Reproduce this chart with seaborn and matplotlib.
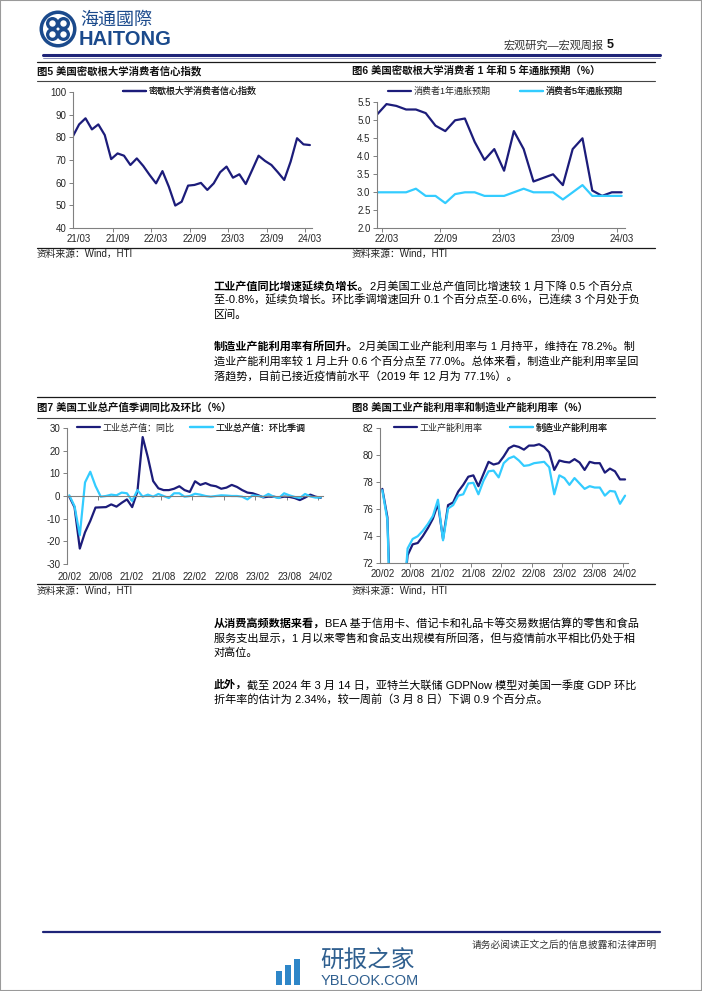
import numpy as np
import pandas as pd
import matplotlib
matplotlib.use("Agg")
import matplotlib.pyplot as plt
import seaborn as sns
from matplotlib.lines import Line2D
from matplotlib.patches import Ellipse, Rectangle

# ---------------- data ----------------
sent_months = [str(p) for p in pd.period_range("2021-02", "2024-03", freq="M")]
sentiment = [80.3, 85.7, 88.4, 83.5, 85.7, 81.0, 70.4, 72.9, 71.9, 67.8, 70.7, 67.4,
             63.4, 59.7, 65.1, 58.2, 49.9, 51.6, 58.7, 59.0, 59.9, 56.8, 59.7, 64.6,
             67.1, 62.2, 63.7, 59.4, 65.6, 71.9, 69.6, 67.8, 64.6, 61.2, 69.3, 79.6,
             76.9, 76.6]
sent_ticklabels = ["21/03", "21/09", "22/03", "22/09", "23/03", "23/09", "24/03"]

infl_months = [str(p) for p in pd.period_range("2022-02", "2024-03", freq="M")]
infl_1y = [5.15, 5.45, 5.4, 5.3, 5.3, 5.2, 4.85, 4.7, 5.0, 5.05, 4.4, 3.9, 4.2,
           3.6, 4.7, 4.2, 3.3, 3.4, 3.5, 3.2, 4.2, 4.5, 3.05, 2.9, 3.0, 3.0]
infl_5y = [3.0, 3.0, 3.0, 3.0, 3.1, 2.9, 2.9, 2.7, 2.95, 3.0, 3.0, 2.9, 2.9,
           2.9, 3.0, 3.1, 3.0, 3.0, 3.0, 2.8, 3.0, 3.2, 2.9, 2.9, 2.9, 2.9]
infl_ticklabels = ["22/03", "22/09", "23/03", "23/09", "24/03"]

ip_months = [str(p) for p in pd.period_range("2020-02", "2024-02", freq="M")]
ip_yoy = [-0.3, -5, -23.2, -16, -11, -5.1, -5, -4.9, -3.7, -4.7, -3, -1.5, -4.9,
          2, 26, 17, 6.6, 3.4, 2.6, 2.6, 3.2, 4.3, 2.6, 1.8, 6.5, 4.9, 5.7, 4.7,
          4.3, 3.2, 3.7, 4.9, 4.0, 2.6, 1.5, 1.2, 0.4, -0.6, -0.3, -0.3, -0.7,
          -0.3, -0.4, -0.9, -1.8, -0.7, 0.6, -0.3, -0.8]
ip_mom = [0.3, -4.5, -17.3, 6, 10.7, 4.4, -0.3, 0, 0.6, 0.3, 1.5, 1.2, -2.2, 2.6,
          -0.3, 0.6, -0.3, 0.9, 0, -0.9, 1.2, 1.2, -0.3, 0, 1.0, 0.6, 0, -0.3, 0,
          0.3, 0.2, 0, 0, -0.3, -1.5, 0.3, 0, -0.4, 0.9, -0.3, -0.9, 1.2, 0.3,
          -0.4, -0.9, 0.9, -0.2, -0.7, -0.6]
cu_total = [77.5, 75.4, 64.2, 64.9, 68.8, 72.6, 73.4, 73.5, 74.0, 74.6, 75.3, 76.4,
            73.8, 76.3, 76.5, 77.3, 77.8, 78.4, 78.5, 77.7, 78.6, 79.5, 79.3, 79.4,
            79.9, 80.5, 80.7, 80.6, 80.4, 80.7, 80.7, 80.8, 80.6, 80.2, 78.9, 79.6,
            79.5, 79.45, 79.7, 79.45, 78.9, 79.5, 79.4, 79.4, 78.7, 79.0, 78.8,
            78.2, 78.2]
cu_mfg = [77.4, 75.2, 62.5, 63.5, 68.0, 73.1, 73.8, 74.0, 74.4, 74.9, 75.5, 76.7,
          73.7, 76.05, 76.3, 77.0, 77.1, 77.9, 77.95, 77.1, 78.1, 78.8, 78.85,
          78.35, 79.4, 79.75, 79.9, 79.6, 79.2, 79.25, 79.4, 79.45, 79.5, 79.1,
          77.1, 78.5, 78.3, 77.8, 78.3, 77.9, 77.5, 77.7, 77.6, 77.6, 77.0, 77.35,
          77.3, 76.4, 77.0]
ip_ticklabels = ["20/02", "20/08", "21/02", "21/08", "22/02", "22/08", "23/02",
                 "23/08", "24/02"]

# ---------------- style ----------------
sns.set_theme(style="white")
plt.rcParams["font.family"] = ["Liberation Sans", "Noto Sans CJK SC"]
plt.rcParams["axes.unicode_minus"] = False

NAVY = "#1C1C7A"
CYAN = "#33CCFF"
GRAY = "#808080"
W, H = 702, 991

fig = plt.figure(figsize=(W / 100, H / 100), dpi=100)
fig.patch.set_facecolor("white")


def px(x):
    return x / W


def py(y):
    return 1 - y / H


def add_ax(l, t, r, b):
    return fig.add_axes([l / W, 1 - b / H, (r - l) / W, (b - t) / H])


def hline(x0, x1, y, color="k", lw=0.8):
    fig.add_artist(Line2D([px(x0), px(x1)], [py(y), py(y)], color=color, lw=lw))


def disc(cx, cy, r, color):
    fig.add_artist(Ellipse((px(cx), py(cy)), 2 * r / W, 2 * r / H,
                           transform=fig.transFigure, facecolor=color,
                           edgecolor="none"))


def style_ax(ax):
    for s in ["top", "right"]:
        ax.spines[s].set_visible(False)
    for s in ["left", "bottom"]:
        ax.spines[s].set_color(GRAY)
        ax.spines[s].set_linewidth(0.8)
    ax.tick_params(axis="y", which="major", direction="out", length=3, width=0.7,
                   color=GRAY, labelsize=7, pad=1.5, left=True)
    ax.tick_params(axis="x", which="major", length=0, labelsize=7, pad=4)
    ax.tick_params(axis="x", which="minor", direction="out", length=3, width=0.7,
                   color=GRAY, bottom=True)
    ax.set_xlabel("")
    ax.set_ylabel("")
    ax.set_facecolor("white")


def add_legend(ax, label, color, x, y):
    h = Line2D([], [], color=color, lw=1.6)
    leg = ax.legend([h], [label], loc="center left",
                    bbox_to_anchor=(px(x), py(y)), bbox_transform=fig.transFigure,
                    frameon=False, borderpad=0, borderaxespad=0, handlelength=2.6,
                    handletextpad=0.25, prop={"size": 6.5})
    ax.add_artist(leg)


# ---------------- chart 5 ----------------
df5 = pd.DataFrame({"m": np.arange(len(sentiment)), "v": sentiment, "month": sent_months})
ax5 = add_ax(72.7, 92, 311.8, 228)
sns.lineplot(data=df5, x="m", y="v", ax=ax5, color=NAVY, lw=1.6, legend=False)
ax5.set_xlim(0, 37.3)
ax5.set_ylim(40, 100)
ax5.set_yticks(np.arange(40, 101, 10))
ax5.set_xticks(np.arange(1, 38, 6))
ax5.set_xticklabels(sent_ticklabels)
ax5.set_xticks(np.arange(6.25, 37, 6), minor=True)
style_ax(ax5)
add_legend(ax5, "密歇根大学消费者信心指数", NAVY, 123, 91.7)

# ---------------- chart 6 ----------------
df6 = pd.DataFrame({"m": np.arange(len(infl_1y)), "y1": infl_1y, "y5": infl_5y,
                    "month": infl_months})
ax6 = add_ax(376.7, 102.3, 624.6, 228.3)
sns.lineplot(data=df6, x="m", y="y1", ax=ax6, color=NAVY, lw=1.6, legend=False)
sns.lineplot(data=df6, x="m", y="y5", ax=ax6, color=CYAN, lw=1.6, legend=False)
ax6.set_xlim(0, 25.3)
ax6.set_ylim(2.0, 5.5)
ax6.set_yticks(np.arange(2.0, 5.51, 0.5))
ax6.set_yticklabels([f"{v:.1f}" for v in np.arange(2.0, 5.51, 0.5)])
ax6.set_xticks(np.arange(1, 26, 6))
ax6.set_xticklabels(infl_ticklabels)
ax6.set_xticks(np.arange(0.5, 25, 6), minor=True)
style_ax(ax6)
add_legend(ax6, "消费者1年通胀预期", NAVY, 387.7, 91.7)
add_legend(ax6, "消费者5年通胀预期", CYAN, 520, 91.7)

# ---------------- chart 7 ----------------
df7 = pd.DataFrame({"m": np.arange(len(ip_yoy)), "yoy": ip_yoy, "mom": ip_mom,
                    "month": ip_months})
ax7 = add_ax(66.7, 428, 323.4, 564)
sns.lineplot(data=df7, x="m", y="yoy", ax=ax7, color=NAVY, lw=1.6, legend=False)
sns.lineplot(data=df7, x="m", y="mom", ax=ax7, color=CYAN, lw=1.6, legend=False)
ax7.set_xlim(-0.5, 48.5)
ax7.set_ylim(-30, 30)
ax7.set_yticks(np.arange(-30, 31, 10))
ax7.set_xticks(np.arange(0, 49, 6))
ax7.set_xticklabels(ip_ticklabels)
ax7.set_xticks(np.arange(5.5, 48, 6), minor=True)
style_ax(ax7)
ax7.spines["bottom"].set_position(("data", 0))
ax7.tick_params(axis="x", which="major", pad=55)
add_legend(ax7, "工业总产值：同比", NAVY, 76.7, 428)
add_legend(ax7, "工业总产值：环比季调", CYAN, 190, 428)

# ---------------- chart 8 ----------------
df8 = pd.DataFrame({"m": np.arange(len(cu_total)), "tot": cu_total, "mfg": cu_mfg,
                    "month": ip_months})
ax8 = add_ax(379.8, 428, 627.6, 563.3)
sns.lineplot(data=df8, x="m", y="tot", ax=ax8, color=NAVY, lw=1.6, legend=False)
sns.lineplot(data=df8, x="m", y="mfg", ax=ax8, color=CYAN, lw=1.6, legend=False)
ax8.set_xlim(-0.5, 48.5)
ax8.set_ylim(72, 82)
ax8.set_yticks(np.arange(72, 83, 2))
ax8.set_xticks(np.arange(0, 49, 6))
ax8.set_xticklabels(ip_ticklabels)
ax8.set_xticks(np.arange(5.5, 48, 6), minor=True)
style_ax(ax8)
add_legend(ax8, "工业产能利用率", NAVY, 394, 428)
add_legend(ax8, "制造业产能利用率", CYAN, 510, 428)

# ---------------- titles, rules, sources ----------------
TB = dict(fontsize=7.5, fontweight="bold", va="center", ha="left", color="#111111")
hline(37, 655, 62, "k", 0.9)
hline(37, 655, 81, "#444444", 0.8)
hline(37, 655, 248, "k", 0.9)
fig.text(px(37), py(71), "图5 美国密歇根大学消费者信心指数", **TB)
fig.text(px(352), py(71), "图6 美国密歇根大学消费者 1 年和 5 年通胀预期（%）", **TB)
SRC = dict(fontsize=7, va="center", ha="left", color="#222222")
fig.text(px(37), py(254), "资料来源：Wind，HTI", **SRC)
fig.text(px(352), py(254), "资料来源：Wind，HTI", **SRC)

hline(37, 655, 397, "k", 0.9)
hline(37, 655, 418, "#444444", 0.8)
hline(37, 655, 584, "k", 0.9)
fig.text(px(37), py(408), "图7 美国工业总产值季调同比及环比（%）", **TB)
fig.text(px(352), py(408), "图8 美国工业产能利用率和制造业产能利用率（%）", **TB)
fig.text(px(37), py(591), "资料来源：Wind，HTI", **SRC)
fig.text(px(352), py(591), "资料来源：Wind，HTI", **SRC)

# ---------------- body text ----------------
renderer = fig.canvas.get_renderer()
BODY = 8.0


def para_line(x, y, bold, normal):
    xx = x
    if bold:
        t = fig.text(px(xx), py(y), bold, fontsize=BODY, fontweight="bold",
                     va="center", ha="left", color="black")
        bb = t.get_window_extent(renderer=renderer)
        xx = xx + bb.width
    if normal:
        fig.text(px(xx), py(y), normal, fontsize=BODY, va="center", ha="left",
                 color="black")


X0 = 214
para_line(X0, 286, "工业产值同比增速延续负增长。", "2月美国工业总产值同比增速较 1 月下降 0.5 个百分点")
para_line(X0, 300.5, "", "至-0.8%，延续负增长。环比季调增速回升 0.1 个百分点至-0.6%，已连续 3 个月处于负")
para_line(X0, 314.5, "", "区间。")
para_line(X0, 346.5, "制造业产能利用率有所回升。", "2月美国工业产能利用率与 1 月持平，维持在 78.2%。制")
para_line(X0, 361, "", "造业产能利用率较 1 月上升 0.6 个百分点至 77.0%。总体来看，制造业产能利用率呈回")
para_line(X0, 376, "", "落趋势，目前已接近疫情前水平（2019 年 12 月为 77.1%）。")
para_line(X0, 623.5, "从消费高频数据来看，", "BEA 基于信用卡、借记卡和礼品卡等交易数据估算的零售和食品")
para_line(X0, 638, "", "服务支出显示，1 月以来零售和食品支出规模有所回落，但与疫情前水平相比仍处于相")
para_line(X0, 652.5, "", "对高位。")
para_line(X0, 685, "此外，", "截至 2024 年 3 月 14 日，亚特兰大联储 GDPNow 模型对美国一季度 GDP 环比")
para_line(X0, 699.5, "", "折年率的估计为 2.34%，较一周前（3 月 8 日）下调 0.9 个百分点。")

# ---------------- header ----------------
LOGO = "#1B4A8C"
disc(58, 29, 18.5, LOGO)
disc(58, 29, 15, "white")
for dx, dy in [(-5.5, -5.5), (5.5, -5.5), (-5.5, 5.5), (5.5, 5.5)]:
    disc(58 + dx, 29 + dy, 6.5, LOGO)
    disc(58 + dx, 29 + dy, 3.2, "white")
fig.text(px(80), py(20), "海通國際", fontsize=13, color=LOGO, va="center", ha="left",
         family=["Noto Sans CJK SC"])
fig.text(px(79), py(39.5), "HAITONG", fontsize=14.5, fontweight="bold", color=LOGO,
         va="center", ha="left", family=["Liberation Sans"])
fig.text(px(604), py(45), "宏观研究—宏观周报", fontsize=8, color="#333333",
         va="center", ha="right")
fig.text(px(607), py(45), "5", fontsize=9, fontweight="bold", color="#111111",
         va="center", ha="left")
hline(43, 660, 54.5, "#1E2478", 2.2)
hline(43, 660, 57.5, "#7A7FB0", 0.6)

# ---------------- footer ----------------
hline(43, 660, 932, "#1E2478", 1.6)
fig.text(px(657), py(945), "请务必阅读正文之后的信息披露和法律声明", fontsize=7,
         color="#333333", va="center", ha="right")
WM = "#2E86C8"
for bx, bh in [(276, 14), (285, 20), (294, 26)]:
    fig.add_artist(Rectangle((px(bx), py(985)), 6 / W, bh / H,
                             transform=fig.transFigure, facecolor=WM, edgecolor="none"))
fig.text(px(320), py(960), "研报之家", fontsize=17, color="#2F5F8F",
         va="center", ha="left", family=["Noto Sans CJK SC"])
fig.text(px(321), py(981), "YBLOOK.COM", fontsize=10.5, color="#2F5F8F",
         va="center", ha="left", family=["Liberation Sans"])

# page border
fig.add_artist(Rectangle((0, 0), 1, 1, transform=fig.transFigure, fill=False,
                         edgecolor="#9A9A9A", lw=1.5))

fig.savefig("out.png", dpi=100, facecolor="white")
